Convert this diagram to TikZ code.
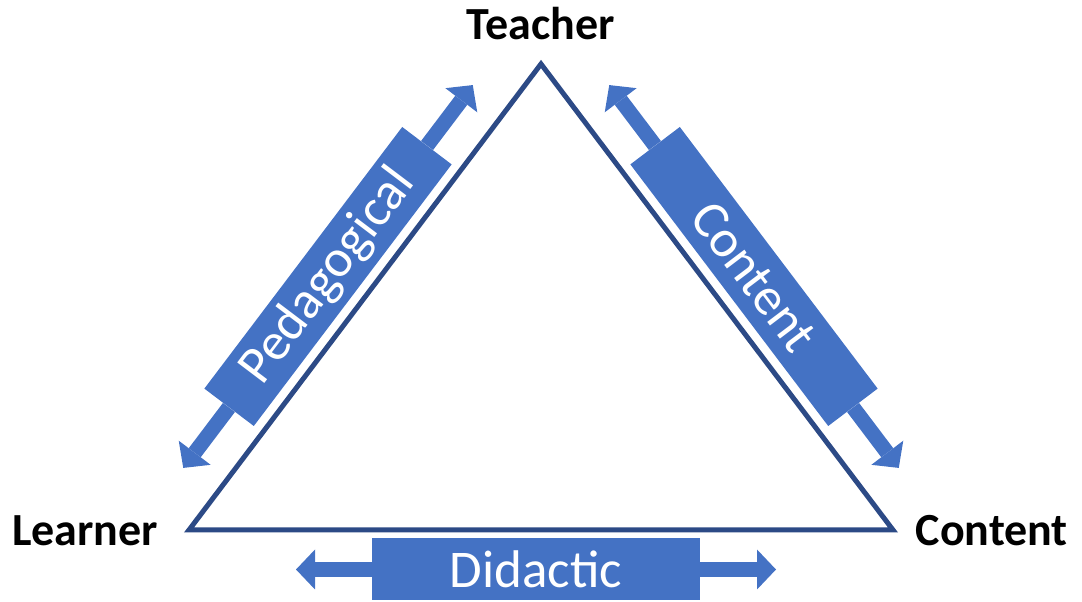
\documentclass[tikz,border=0pt]{standalone}
\usepackage{fontspec}
\setmainfont{Carlito}
\usetikzlibrary{arrows.meta}

\definecolor{edgeblue}{RGB}{44,74,134}
\definecolor{boxblue}{RGB}{68,114,196}

\tikzset{
  vertex/.style={font=\fontsize{46}{46}\selectfont\bfseries, inner sep=0pt},
  relbox/.style={fill=boxblue, text=white, minimum width=328pt, minimum height=62pt,
    inner sep=0pt, font=\fontsize{53}{53}\selectfont},
  relarrow/.style={draw=boxblue, line width=15pt,
    -{Triangle[length=19pt,width=40pt,line width=0pt]}},
  triline/.style={draw=edgeblue, line width=5pt, line join=miter}
}

\begin{document}
\begin{tikzpicture}[x=1pt,y=1pt]
\useasboundingbox (0,0) rectangle (1082,602);
% the triangle
\coordinate (top) at (541,538);
\coordinate (left) at (189,72);
\coordinate (right) at (893,72);
\draw[triline] (top) -- (left) -- (right) -- cycle;
% corner labels
\node[vertex, anchor=base] (teacher) at (541,562) {Teacher};
\node[vertex, anchor=base west] (learner) at (12,56) {Learner};
\node[vertex, anchor=base east] (content) at (1068,56) {Content};
% relation boxes
\node[relbox, rotate=52.9] (ped) at (328,325.5) {Pedagogical};
\node[relbox, rotate=-52.9] (cnt) at (754,325.5) {Content};
\node[relbox] (did) at (536,32.5) {Didactic};
% arrow ends
\path (ped.center) ++(52.9:240) coordinate (ped-hi);
\path (ped.center) ++(232.9:240) coordinate (ped-lo);
\path (cnt.center) ++(127.1:240) coordinate (cnt-hi);
\path (cnt.center) ++(-52.9:240) coordinate (cnt-lo);
\path (did.center) ++(180:240) coordinate (did-l);
\path (did.center) ++(0:240) coordinate (did-r);
\draw[relarrow] (ped.east) -- (ped-hi);
\draw[relarrow] (ped.west) -- (ped-lo);
\draw[relarrow] (cnt.west) -- (cnt-hi);
\draw[relarrow] (cnt.east) -- (cnt-lo);
\draw[relarrow] (did.west) -- (did-l);
\draw[relarrow] (did.east) -- (did-r);
\end{tikzpicture}
\end{document}
